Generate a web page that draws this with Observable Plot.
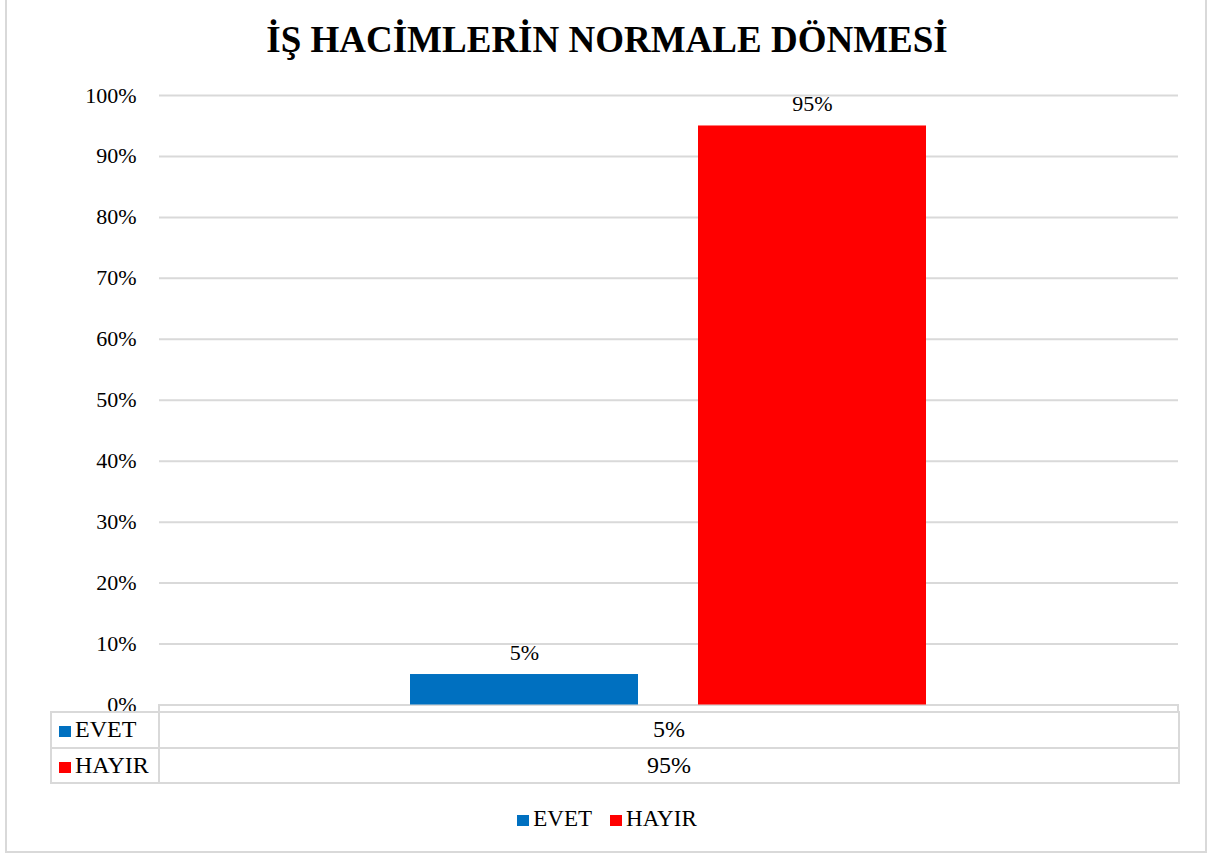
<!DOCTYPE html>
<html>
<head>
<meta charset="utf-8">
<script src="https://cdn.jsdelivr.net/npm/d3@7"></script>
<script src="https://cdn.jsdelivr.net/npm/@observablehq/plot@0.6"></script>
<style>
  body { margin: 0; background: #fff; }
  #wrap { position: relative; width: 1214px; height: 855px; overflow: hidden;
          font-family: "Liberation Serif", "Times New Roman", serif; color: #000; }
  #frame { position: absolute; left: 5px; top: -2px; width: 1202px; height: 855px;
           border: 2px solid #d9d9d9; box-sizing: border-box; pointer-events: none; }
  #title { position: absolute; left: 0; width: 1214px; top: 19px; text-align: center;
           font-weight: bold; font-size: 37px; line-height: 42px; white-space: nowrap; }
  #chart { position: absolute; left: 0; top: 0; }
  #stub { position: absolute; left: 158px; top: 704px; width: 1021px; height: 9px;
          border-left: 2px solid #d9d9d9; border-right: 2px solid #d9d9d9; box-sizing: border-box; }
  #dtable { position: absolute; left: 50px; top: 711px; width: 1128px; table-layout: fixed;
            border-collapse: collapse; font-size: 24px; }
  #dtable td { border: 2px solid #d9d9d9; height: 33.5px; padding: 0; line-height: 33px; }
  #dtable td.lab { padding-left: 7px; white-space: nowrap; overflow: hidden; }
  #dtable td.val { text-align: center; }
  .sw { display: inline-block; width: 12px; height: 11px; margin-right: 4px; vertical-align: 0px; }
  #legend { position: absolute; left: 0; width: 1214px; top: 804px; text-align: center;
            font-size: 23px; line-height: 30px; white-space: nowrap; }
  #legend span.item { margin: 0 9px; }
</style>
</head>
<body>
<div id="wrap">
  <div id="chart"></div>
  <div id="title"></div>
  <div id="stub"></div>
  <table id="dtable"><colgroup><col style="width:108px"><col style="width:1020px"></colgroup><tbody id="tb"></tbody></table>
  <div id="legend"></div>
  <div id="frame"></div>
</div>
<script>
const title = "İŞ HACİMLERİN NORMALE DÖNMESİ";
const categories = ["EVET", "HAYIR"];
const values = [0.05, 0.95];
const colors = ["#0070C0", "#FF0000"];
const yTicks = [0, 0.1, 0.2, 0.3, 0.4, 0.5, 0.6, 0.7, 0.8, 0.9, 1.0];

const pct = d3.format(".0%");
const data = categories.map((c, i) => ({cat: c, value: values[i]}));

document.getElementById("title").textContent = title;

const chart = Plot.plot({
  width: 1214,
  height: 855,
  marginTop: 95,
  marginBottom: 150.5,
  marginLeft: 159,
  marginRight: 36,
  style: { fontFamily: "'Liberation Serif', 'Times New Roman', serif", background: "transparent" },
  x: { domain: categories, paddingInner: 0.2076, paddingOuter: 0.8668, axis: null },
  y: { domain: [0, 1], axis: null },
  color: { domain: categories, range: colors },
  marks: [
    Plot.ruleY(yTicks, { stroke: "#d9d9d9", strokeWidth: 2 }),
    Plot.text(yTicks, { x: null, y: d => d, text: d => pct(d), frameAnchor: "left", textAnchor: "end",
      dx: -23, fontSize: 22, fill: "#000" }),
    Plot.barY(data, { x: "cat", y: "value", fill: "cat" }),
    Plot.text(data, { x: "cat", y: "value", text: d => pct(d.value), dy: -22, fontSize: 22, fill: "#000" })
  ]
});
document.getElementById("chart").appendChild(chart);

// data table
const tbl = document.getElementById("tb");
categories.forEach((c, i) => {
  const tr = document.createElement("tr");
  const td1 = document.createElement("td");
  td1.className = "lab";
  const sw = document.createElement("span");
  sw.className = "sw"; sw.style.background = colors[i];
  td1.appendChild(sw);
  td1.appendChild(document.createTextNode(c));
  const td2 = document.createElement("td");
  td2.className = "val";
  td2.textContent = pct(values[i]);
  tr.appendChild(td1); tr.appendChild(td2);
  tbl.appendChild(tr);
});

// legend
const lg = document.getElementById("legend");
categories.forEach((c, i) => {
  const s = document.createElement("span");
  s.className = "item";
  const sw = document.createElement("span");
  sw.className = "sw"; sw.style.background = colors[i]; sw.style.marginRight = "4px";
  s.appendChild(sw);
  s.appendChild(document.createTextNode(c));
  lg.appendChild(s);
});
</script>
</body>
</html>
